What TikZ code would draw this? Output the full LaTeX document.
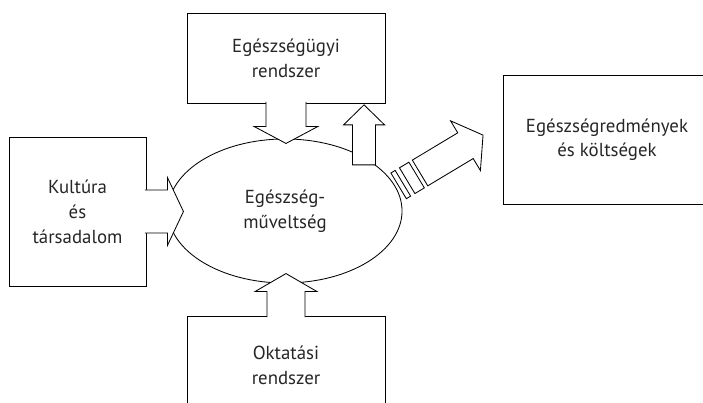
\documentclass[tikz,border=0pt]{standalone}
\usepackage{fontspec}
\setmainfont{PT Sans}
\usetikzlibrary{shapes.geometric,calc}

\begin{document}
\begin{tikzpicture}[x=0.025cm,y=0.025cm,line width=0.6pt,
  font=\fontsize{13.4pt}{17.7pt}\selectfont,text=black!85,
  box/.style={draw,rectangle,align=center,inner sep=0pt},
  blk/.style={draw,fill=white,line join=miter}]
\useasboundingbox (0,0) rectangle (703,402);
\clip (0,0) rectangle (703,402);

\node[draw,ellipse,minimum width=5.85cm,minimum height=3.6cm,inner sep=0pt] (lit) at (285,191)
  {\raisebox{-3pt}{\begin{tabular}{@{}c@{}}Egészség-\\műveltség\end{tabular}}};
\node[box,minimum width=4.95cm,minimum height=2.25cm] (sys) at (286,344) {Egészségügyi\\rendszer};
\node[box,minimum width=3.425cm,minimum height=3.725cm] (cult) at (77.5,190.5) {Kultúra\\és\\társadalom};
\node[box,minimum width=4.95cm,minimum height=2.45cm] (edu) at (286,37) {Oktatási\\rendszer};
\node[box,minimum width=5.2cm,minimum height=3.225cm] (out) at (607,262.5)
  {\raisebox{5pt}{\begin{tabular}{@{}c@{}}Egészségredmények\\és költségek\end{tabular}}};

% block arrows into the ellipse, open on the box side
\draw[blk] ($(sys.south)+(-20,1.5)$) -- ++(0,-24.5) -- ++(-12,0) -- ++(32,-17) -- ++(32,17) -- ++(-12,0) -- ++(0,24.5);
\draw[blk] ($(edu.north)+(-19,-1.5)$) -- ++(0,25.5) -- ++(-12,0) -- ++(31,18) -- ++(31,-18) -- ++(-12,0) -- ++(0,-25.5);
\draw[blk] ($(cult.east)+(-1.5,21.5)$) -- ++(22.5,0) -- ++(0,12.5) -- ++(16,-34) -- ++(-16,-34) -- ++(0,12.5) -- ++(-22.5,0);

% back up to the health system
\draw[blk] (lit.27) -- ++(0,40) -- ++(9,0) -- ++(-20.5,20) -- ++(-20.5,-20) -- ++(9,0) -- ++(0,-40) -- cycle;

% out to the results
\begin{scope}[shift={(lit.12)},rotate=31]
\draw[blk] (3,-15) rectangle (8,15);
\draw[blk] (13,-15) rectangle (24,15);
\draw[blk] (28,-15) -- (81,-15) -- (81,-29) -- (101.5,0) -- (81,29) -- (81,15) -- (28,15) -- cycle;
\end{scope}
\end{tikzpicture}
\end{document}
